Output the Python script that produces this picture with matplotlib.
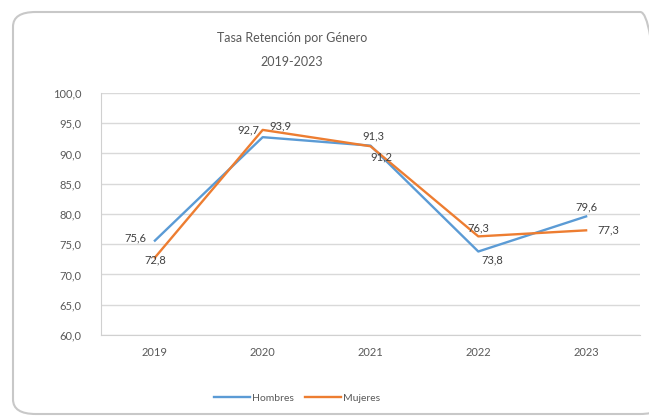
import numpy as np
import matplotlib
matplotlib.use("Agg")
import matplotlib.pyplot as plt
from matplotlib.patches import FancyBboxPatch

plt.rcParams['font.family'] = ['Lato', 'DejaVu Sans']

years = ['2019', '2020', '2021', '2022', '2023']
hombres = [75.6, 92.7, 91.3, 73.8, 79.6]
mujeres = [72.8, 93.9, 91.2, 76.3, 77.3]
# posiciones de las etiquetas (offset en puntos)
off_h = [(-14, 2), (-10, 5), (2, 7), (10, -6), (0, 7)]
off_m = [(0, -2), (13, 3), (8, -8), (0, 6), (16, 0)]

azul = '#5B9BD5'
naranja = '#ED7D31'
gris = '#595959'

fig = plt.figure(figsize=(6.49, 4.19), dpi=100)
ax = fig.add_axes([101/649, 1 - 335/419, (640 - 101)/649, (335 - 93)/419])

# borde del grafico
borde = FancyBboxPatch((13/649, 5/419), 650/649, 402/419,
                       boxstyle="round,pad=0,rounding_size=0.035",
                       transform=fig.transFigure, facecolor='none',
                       edgecolor='#C8C8C8', linewidth=1.5, zorder=0)
fig.patches.append(borde)

x = np.arange(len(years))
ax.plot(x, hombres, color=azul, lw=1.7, label='Hombres', zorder=3)
ax.plot(x, mujeres, color=naranja, lw=1.7, label='Mujeres', zorder=3)

def fmt(v):
    return ('%.1f' % v).replace('.', ',')

for i in range(len(x)):
    ax.annotate(fmt(hombres[i]), (x[i], hombres[i]), xytext=off_h[i], textcoords='offset points',
                ha='center', va='center', fontsize=8, color='#404040')
    ax.annotate(fmt(mujeres[i]), (x[i], mujeres[i]), xytext=off_m[i], textcoords='offset points',
                ha='center', va='center', fontsize=8, color='#404040')

ax.set_xlim(-0.5, 4.5)
ax.set_ylim(60, 100)
ax.set_yticks(np.arange(60, 101, 5))
ax.set_yticklabels([fmt(v) for v in np.arange(60, 101, 5)])
ax.set_xticks(x)
ax.set_xticklabels(years)
ax.tick_params(axis='both', length=0, labelsize=8, colors=gris)
ax.tick_params(axis='x', pad=9)
ax.tick_params(axis='y', pad=14)
ax.grid(axis='y', color='#D9D9D9', lw=1)
ax.set_axisbelow(True)
for s in ['top', 'right']:
    ax.spines[s].set_visible(False)
ax.spines['left'].set_color('#D0D0D0')
ax.spines['bottom'].set_color('#D0D0D0')

fig.text(292/649, 1 - 38/419, 'Tasa Retención por Género', ha='center', va='center',
         fontsize=9, color=gris)
fig.text(292/649, 1 - 62/419, '2019-2023', ha='center', va='center',
         fontsize=9, color=gris)

fig.legend(loc='center', bbox_to_anchor=(297/649, 1 - 398/419), ncol=2, frameon=False,
           fontsize=7.5, labelcolor=gris, handlelength=3.5, columnspacing=1.0, handletextpad=0.2)

fig.savefig('out.png', dpi=100)
